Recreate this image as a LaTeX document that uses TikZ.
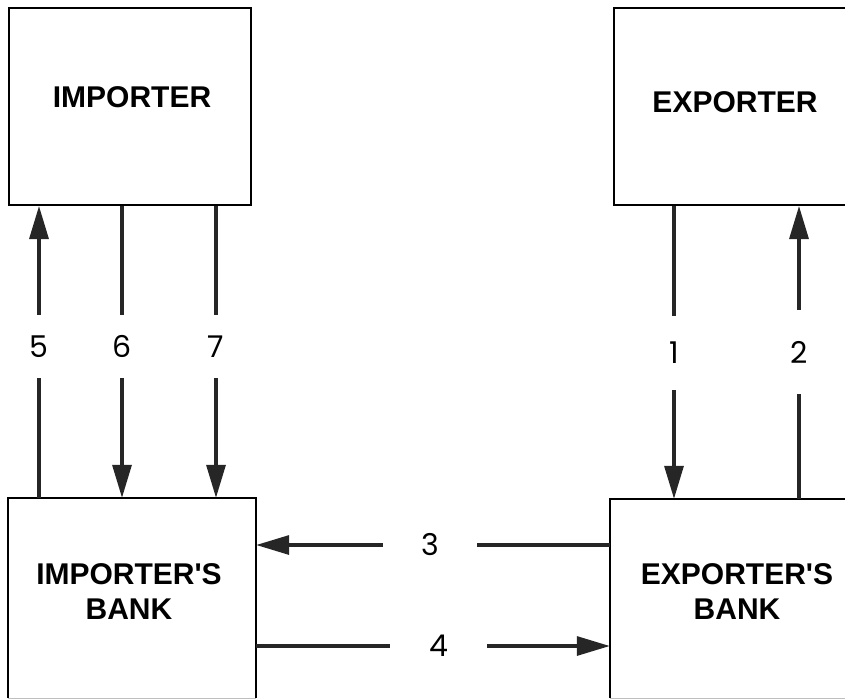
\documentclass[tikz,border=0pt]{standalone}
\usepackage{fontspec}
\setmainfont{Liberation Sans}
\newfontfamily\digitfont{Poppins}
\usetikzlibrary{arrows.meta}

\tikzset{
  party/.style={draw=black, line width=2pt, inner sep=0pt, align=center},
  bank/.style={draw=none, inner sep=0pt},
  boxtext/.style={inner sep=0pt, align=center, font=\bfseries\fontsize{30}{35}\selectfont},
  flow/.style={draw=black!85, line width=3.2pt},
  flowtip/.style={flow, -{Triangle[width=19pt,length=33pt]}},
  vlabel/.style={inner sep=0pt, minimum width=30pt, font=\digitfont\fontsize{30}{30}\selectfont},
  hlabel/.style={inner sep=0pt, minimum height=30pt, font=\digitfont\fontsize{30}{30}\selectfont},
}

\begin{document}
\begin{tikzpicture}[x=1pt, y=-1pt]
  \useasboundingbox (0,0) rectangle (845,699);
  \clip (0,0) rectangle (845,699);

  % the four parties
  \node[party, minimum width=242pt, minimum height=197pt] (imp) at (130,106.5) {};
  \node[boxtext] (imptxt) at (132,97) {IMPORTER};
  \node[party, minimum width=246pt, minimum height=197pt] (exp) at (737,106.5) {};
  \node[boxtext] (exptxt) at (735,102) {EXPORTER};
  \node[bank, minimum width=248pt, minimum height=200pt] (impb) at (132,598) {};
  \node[boxtext] (impbtxt) at (129,592) {IMPORTER\textquotesingle S\\BANK};
  \node[bank, minimum width=250pt, minimum height=199pt] (expb) at (735,598.5) {};
  \node[boxtext] (expbtxt) at (737,592) {EXPORTER\textquotesingle S\\BANK};

  % bank outlines: solid sides and top, faint lower edge
  \draw[black, line width=2pt] (impb.south west) -- (impb.north west) -- (impb.north east) -- (impb.south east);
  \draw[black!25, line width=1.2pt] (impb.south west) -- (impb.south east);
  \draw[black, line width=2pt] (expb.south west) -- (expb.north west) -- (expb.north east);
  \draw[black!25, line width=1.2pt] (expb.south west) -- (expb.south east);

  % step labels
  \node[vlabel, minimum height=63pt] (l5) at (39,346.5) {5};
  \node[vlabel, minimum height=63pt] (l6) at (122,346.5) {6};
  \node[vlabel, minimum height=63pt] (l7) at (216,346.5) {7};
  \node[vlabel, minimum height=74pt] (l1) at (674,353) {1};
  \node[vlabel, minimum height=84pt] (l2) at (799,352) {2};
  \node[hlabel, minimum width=94pt] (l3) at (430,545) {3};
  \node[hlabel, minimum width=97pt] (l4) at (438.5,646) {4};

  % 1: exporter to exporter's bank
  \draw[flow] (exp.south -| l1) -- (l1.north);
  \draw[flowtip] (l1.south) -- (l1.south |- expb.north);
  % 2: exporter's bank to exporter
  \draw[flow] (expb.north -| l2) -- (l2.south);
  \draw[flowtip] (l2.north) -- (l2.north |- exp.south);
  % 3: exporter's bank to importer's bank
  \draw[flow] (expb.west |- l3) -- (l3.east);
  \draw[flowtip] (l3.west) -- (l3.west -| impb.east);
  % 4: importer's bank to exporter's bank
  \draw[flow] (impb.east |- l4) -- (l4.west);
  \draw[flowtip] (l4.east) -- (l4.east -| expb.west);
  % 5: importer's bank to importer
  \draw[flow] (impb.north -| l5) -- (l5.south);
  \draw[flowtip] (l5.north) -- (l5.north |- imp.south);
  % 6 and 7: importer to importer's bank
  \draw[flow] (imp.south -| l6) -- (l6.north);
  \draw[flowtip] (l6.south) -- (l6.south |- impb.north);
  \draw[flow] (imp.south -| l7) -- (l7.north);
  \draw[flowtip] (l7.south) -- (l7.south |- impb.north);
\end{tikzpicture}
\end{document}
